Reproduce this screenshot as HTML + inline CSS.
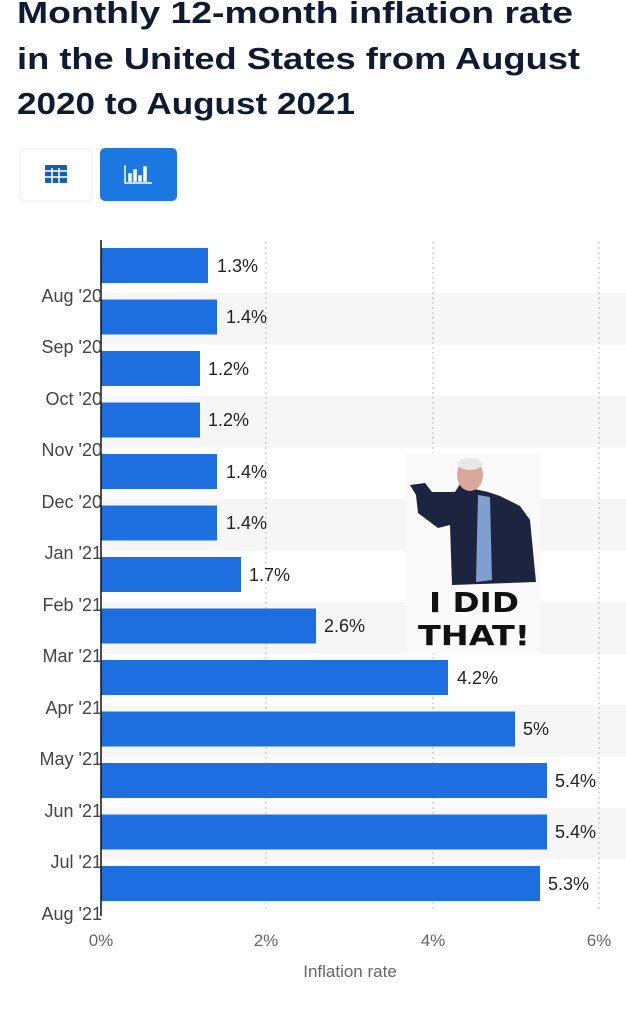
<!DOCTYPE html>
<html><head><meta charset="utf-8"><style>
html,body{margin:0;padding:0;background:#fff;width:626px;height:1024px;overflow:hidden}
</style></head><body>
<svg width="626" height="1024" xmlns="http://www.w3.org/2000/svg" font-family="Liberation Sans, sans-serif">
<g font-weight="bold" font-size="31" fill="#0f1b33">
<text x="17" y="23" textLength="556" lengthAdjust="spacingAndGlyphs">Monthly 12-month inflation rate</text>
<text x="17" y="69" textLength="563" lengthAdjust="spacingAndGlyphs">in the United States from August</text>
<text x="17" y="114" textLength="338" lengthAdjust="spacingAndGlyphs">2020 to August 2021</text>
</g>
<rect x="20" y="149" width="72" height="52" rx="5" fill="#fff" stroke="#eee"/>
<g fill="#1a5fa8"><rect x="45" y="165" width="22" height="18" rx="1"/></g>
<g stroke="#fff" stroke-width="1.5"><line x1="45" y1="171" x2="67" y2="171"/><line x1="45" y1="177" x2="67" y2="177"/><line x1="52" y1="168" x2="52" y2="183"/><line x1="59" y1="168" x2="59" y2="183"/></g>
<rect x="100" y="148" width="77" height="53" rx="5" fill="#1b78e0"/>
<g stroke="#fff" stroke-width="1.5" fill="#fff"><polyline points="125,165 125,183 152,183" fill="none"/><rect x="129" y="174" width="2" height="7"/><rect x="134" y="170" width="2" height="11"/><rect x="139" y="176" width="2" height="5"/><rect x="144" y="167" width="2" height="14"/></g>
<g fill="#f6f6f6">
<rect x="101" y="293" width="525" height="51.5"/><rect x="101" y="396" width="525" height="51.5"/><rect x="101" y="499" width="525" height="51.5"/><rect x="101" y="602" width="525" height="51.5"/><rect x="101" y="705" width="525" height="51.5"/><rect x="101" y="808" width="525" height="51.5"/>
</g>
<g stroke="#bbb" stroke-dasharray="2,3" stroke-width="1"><line x1="266" y1="242" x2="266" y2="910"/><line x1="433" y1="242" x2="433" y2="910"/><line x1="599" y1="242" x2="599" y2="910"/></g>
<g fill="#1d6fe0">
<rect x="101" y="248" width="107" height="35"/>
<rect x="101" y="299.5" width="116" height="35"/>
<rect x="101" y="351" width="99" height="35"/>
<rect x="101" y="402.5" width="99" height="35"/>
<rect x="101" y="454" width="116" height="35"/>
<rect x="101" y="505.5" width="116" height="35"/>
<rect x="101" y="557" width="140" height="35"/>
<rect x="101" y="608.5" width="215" height="35"/>
<rect x="101" y="660" width="347" height="35"/>
<rect x="101" y="711.5" width="414" height="35"/>
<rect x="101" y="763" width="446" height="35"/>
<rect x="101" y="814.5" width="446" height="35"/>
<rect x="101" y="866" width="439" height="35"/>
</g>
<line x1="101" y1="240" x2="101" y2="916" stroke="#111" stroke-width="1.5"/>
<g font-size="18" fill="#222">
<text x="217" y="272">1.3%</text><text x="226" y="323">1.4%</text><text x="208" y="375">1.2%</text><text x="208" y="426">1.2%</text><text x="226" y="478">1.4%</text><text x="226" y="529">1.4%</text><text x="249" y="581">1.7%</text><text x="324" y="632">2.6%</text><text x="457" y="684">4.2%</text><text x="523" y="735">5%</text><text x="555" y="787">5.4%</text><text x="555" y="838">5.4%</text><text x="548" y="890">5.3%</text>
</g>
<g font-size="18" fill="#444" text-anchor="end">
<text x="102" y="302">Aug '20</text><text x="102" y="353">Sep '20</text><text x="102" y="405">Oct '20</text><text x="102" y="456">Nov '20</text><text x="102" y="508">Dec '20</text><text x="102" y="559">Jan '21</text><text x="102" y="611">Feb '21</text><text x="102" y="662">Mar '21</text><text x="102" y="714">Apr '21</text><text x="102" y="765">May '21</text><text x="102" y="817">Jun '21</text><text x="102" y="868">Jul '21</text><text x="102" y="920">Aug '21</text>
</g>
<g font-size="17" fill="#666" text-anchor="middle">
<text x="101" y="946">0%</text><text x="266" y="946">2%</text><text x="433" y="946">4%</text><text x="599" y="946">6%</text>
<text x="350" y="977">Inflation rate</text>
</g>
<rect x="406" y="453" width="134" height="200" fill="#fafafa"/>
<path d="M410,485 L425,483 L432,492 L455,492 L460,484 L470,488 L488,492 L500,496 L520,506 L530,520 L536,582 L452,585 L450,525 L438,528 L418,513 L416,495 Z" fill="#1c2440"/>
<path d="M478,495 L490,497 L492,580 L476,582 Z" fill="#7f9fd0"/>
<ellipse cx="470" cy="475" rx="13" ry="16" fill="#d9a899"/>
<ellipse cx="470" cy="464" rx="12" ry="6" fill="#e8e8e8"/>
<g font-family="DejaVu Sans, sans-serif" font-weight="bold" fill="#111" text-anchor="middle" font-size="28">
<text x="474" y="612" textLength="90" lengthAdjust="spacingAndGlyphs">I DID</text>
<text x="474" y="645" textLength="112" lengthAdjust="spacingAndGlyphs">THAT!</text>
</g>
</svg>
</body></html>
